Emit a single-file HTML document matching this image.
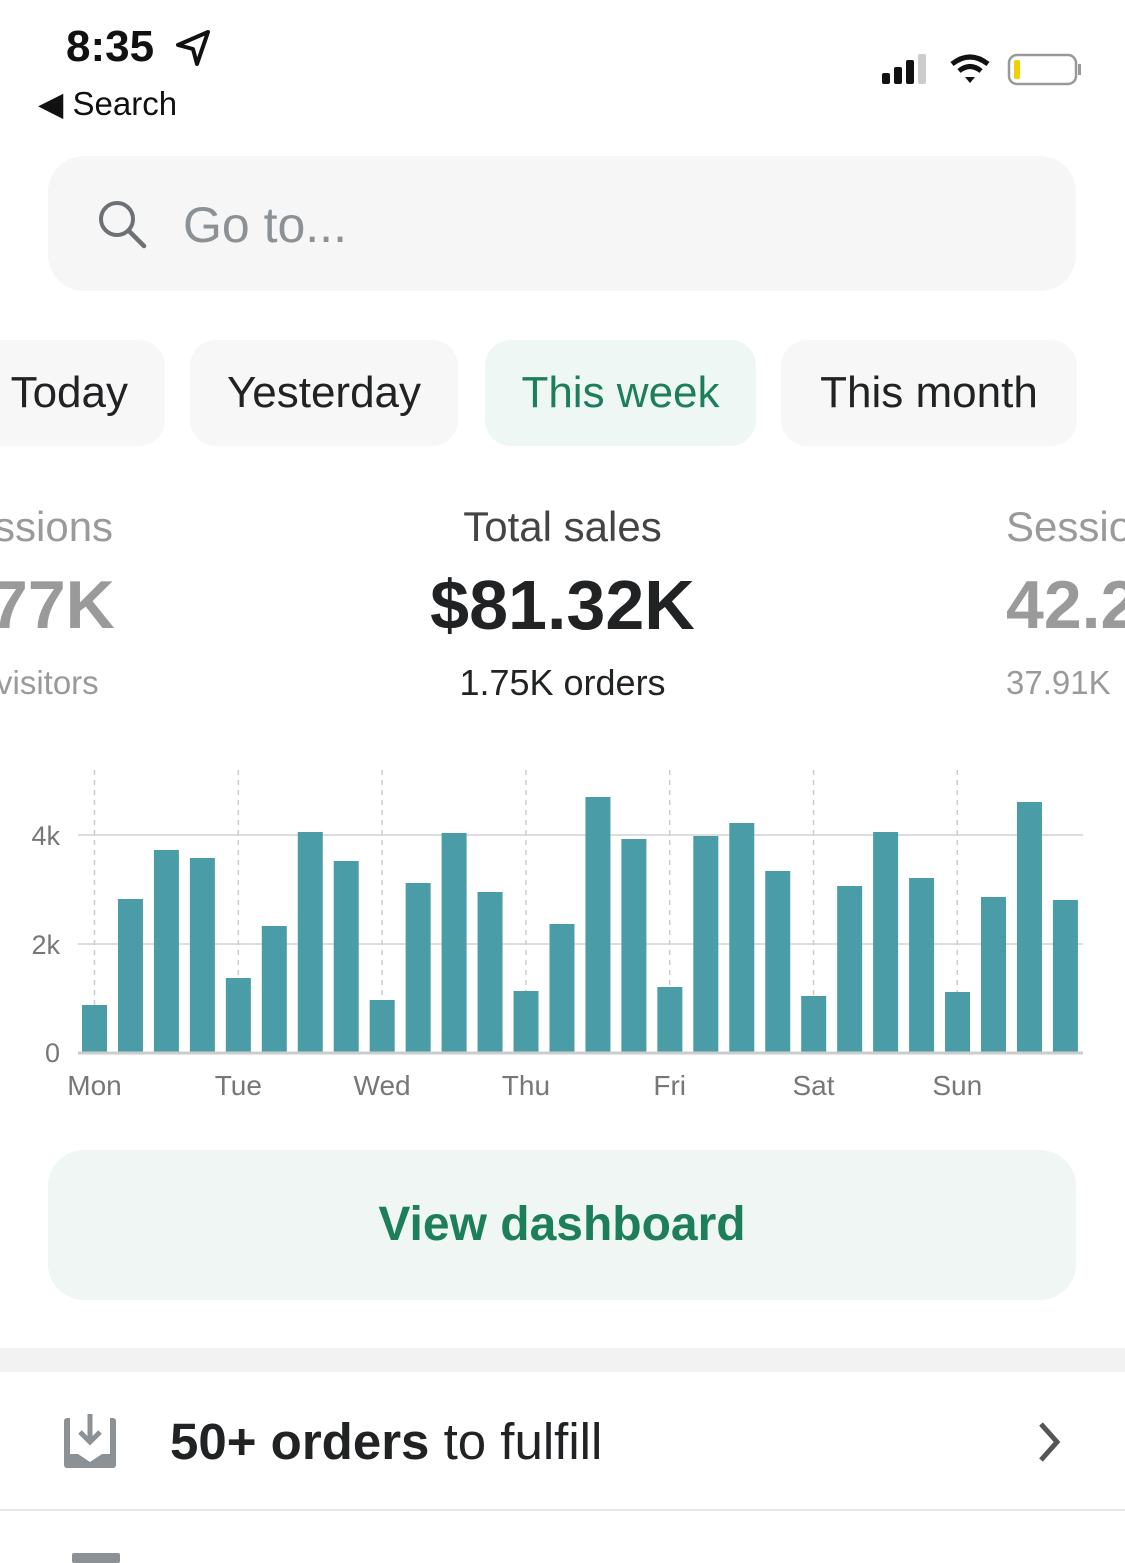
<!DOCTYPE html>
<html><head><meta charset="utf-8"><style>
html,body{margin:0;padding:0;background:#fff;}
body{width:1125px;height:1563px;position:relative;overflow:hidden;font-family:"Liberation Sans",sans-serif;}
.a{position:absolute;white-space:nowrap;}
.pill{position:absolute;top:340px;height:106px;border-radius:26px;background:#f7f7f7;font-size:44px;line-height:106px;text-align:center;color:#202223;}
</style></head><body>
<div class="a" style="left:66px;top:22px;font-size:44px;font-weight:bold;color:#111;">8:35</div>
<svg class="a" style="left:174px;top:28px" width="40" height="40" viewBox="0 0 40 40"><path d="M34 4 L4 17 L19 21 L23 36 Z" fill="none" stroke="#111" stroke-width="4" stroke-linejoin="round"/></svg>
<div class="a" style="left:38px;top:84px;font-size:33px;color:#111;">◀ Search</div>
<svg class="a" style="left:880px;top:52px" width="205" height="36">
<rect x="2" y="21" width="8" height="11" rx="2" fill="#111"/><rect x="14" y="15" width="8" height="17" rx="2" fill="#111"/><rect x="26" y="8" width="8" height="24" rx="2" fill="#111"/><rect x="38" y="2" width="8" height="30" rx="2" fill="#ccc"/>
<path d="M72 12 Q90 -2 108 12" fill="none" stroke="#111" stroke-width="5"/><path d="M79 19 Q90 10 101 19" fill="none" stroke="#111" stroke-width="5"/><path d="M85 25 L90 31 L95 25 Z" fill="#111"/>
<rect x="129" y="3" width="67" height="29" rx="8" fill="none" stroke="#999" stroke-width="2.5"/><rect x="134" y="8" width="6" height="19" rx="2" fill="#f0d000"/><rect x="198" y="12" width="3" height="11" fill="#999"/></svg>
<div class="a" style="left:48px;top:156px;width:1028px;height:135px;border-radius:36px;background:#f6f6f6;"></div>
<svg class="a" style="left:96px;top:198px" width="52" height="52"><circle cx="21" cy="21" r="16" fill="none" stroke="#6d7175" stroke-width="4"/><line x1="33" y1="33" x2="48" y2="48" stroke="#6d7175" stroke-width="4.5" stroke-linecap="round"/></svg>
<div class="a" style="left:183px;top:196px;font-size:50px;color:#8c9196;">Go to...</div>
<div class="pill" style="left:-40px;width:205px;text-align:right;padding-right:0;"><span style="margin-right:37px">Today</span></div>
<div class="pill" style="left:190px;width:268px;">Yesterday</div>
<div class="pill" style="left:485px;width:271px;background:#eef7f3;color:#1c7f5a;">This week</div>
<div class="pill" style="left:781px;width:296px;">This month</div>
<div class="a" style="left:-6px;top:503px;font-size:42px;color:#9a9a9a;">ssions</div>
<div class="a" style="left:-10px;top:566px;font-size:68px;font-weight:bold;color:#9a9a9a;">77K</div>
<div class="a" style="left:-4px;top:664px;font-size:33px;color:#9a9a9a;">visitors</div>
<div class="a" style="left:0;width:1125px;text-align:center;top:503px;font-size:42px;color:#444;">Total sales</div>
<div class="a" style="left:0;width:1125px;text-align:center;top:565px;font-size:70px;font-weight:bold;color:#202223;">$81.32K</div>
<div class="a" style="left:0;width:1125px;text-align:center;top:662px;font-size:36px;color:#202223;">1.75K orders</div>
<div class="a" style="left:1006px;top:503px;font-size:42px;color:#9a9a9a;">Sessio</div>
<div class="a" style="left:1006px;top:566px;font-size:68px;font-weight:bold;color:#9a9a9a;">42.2</div>
<div class="a" style="left:1006px;top:664px;font-size:33px;color:#9a9a9a;">37.91K</div>
<svg class="a" style="left:0;top:760px" width="1125" height="350" id="c"></svg>
<div class="a" style="left:48px;top:1150px;width:1028px;height:150px;border-radius:36px;background:#f0f6f3;text-align:center;line-height:150px;font-size:48px;font-weight:bold;color:#1c7f5a;">View dashboard</div>
<div class="a" style="left:0;top:1348px;width:1125px;height:24px;background:#f2f2f2;"></div>
<svg class="a" style="left:62px;top:1412px" width="56" height="58"><rect x="2" y="6" width="52" height="50" rx="3" fill="#8c9196"/><rect x="8" y="6" width="40" height="36" fill="#fff"/><path d="M16 42 L28 50 L40 42 Z" fill="#fff"/><line x1="28" y1="2" x2="28" y2="28" stroke="#8c9196" stroke-width="5"/><path d="M18 20 L28 30 L38 20" fill="none" stroke="#8c9196" stroke-width="5"/></svg>
<div class="a" style="left:170px;top:1412px;font-size:51px;color:#202223;"><b>50+ orders</b> to fulfill</div>
<svg class="a" style="left:1035px;top:1420px" width="30" height="44"><path d="M6 4 L22 22 L6 40" fill="none" stroke="#555" stroke-width="5"/></svg>
<div class="a" style="left:0;top:1509px;width:1125px;height:2px;background:#e6e6e6;"></div>
<div class="a" style="left:72px;top:1553px;width:48px;height:10px;background:#8c9196;border-radius:2px;"></div>
<script>
var tops=[1005,899,850,858,978,926,832,861,1000,883,833,892,991,924,797,839,987,836,823,871,996,886,832,878,992,897,802,900];
var s='';var o=760;
s+='<line x1="78" y1="'+(835-o)+'" x2="1083" y2="'+(835-o)+'" stroke="#ddd" stroke-width="2"/>';
s+='<line x1="78" y1="'+(944-o)+'" x2="1083" y2="'+(944-o)+'" stroke="#ddd" stroke-width="2"/>';
for(var i=0;i<7;i++){var x=94.5+i*143.8;s+='<line x1="'+x+'" y1="10" x2="'+x+'" y2="'+(1053-o)+'" stroke="#ccc" stroke-width="1.5" stroke-dasharray="5,5"/>';}
for(var i=0;i<28;i++){var x=82+i*35.96;s+='<rect x="'+x+'" y="'+(tops[i]-o)+'" width="25" height="'+(1053-tops[i])+'" fill="#4a9ca6"/>';}
s+='<line x1="78" y1="'+(1053-o)+'" x2="1083" y2="'+(1053-o)+'" stroke="#ccc" stroke-width="3"/>';
s+='<text x="60" y="'+(845-o)+'" font-size="27" fill="#777" text-anchor="end" font-family="Liberation Sans">4k</text>';
s+='<text x="60" y="'+(954-o)+'" font-size="27" fill="#777" text-anchor="end" font-family="Liberation Sans">2k</text>';
s+='<text x="60" y="'+(1062-o)+'" font-size="27" fill="#777" text-anchor="end" font-family="Liberation Sans">0</text>';
var d=['Mon','Tue','Wed','Thu','Fri','Sat','Sun'];
for(var i=0;i<7;i++){s+='<text x="'+(94.5+i*143.8)+'" y="'+(1095-o)+'" font-size="28" fill="#777" text-anchor="middle" font-family="Liberation Sans">'+d[i]+'</text>';}
document.getElementById('c').innerHTML=s;
</script>
</body></html>
